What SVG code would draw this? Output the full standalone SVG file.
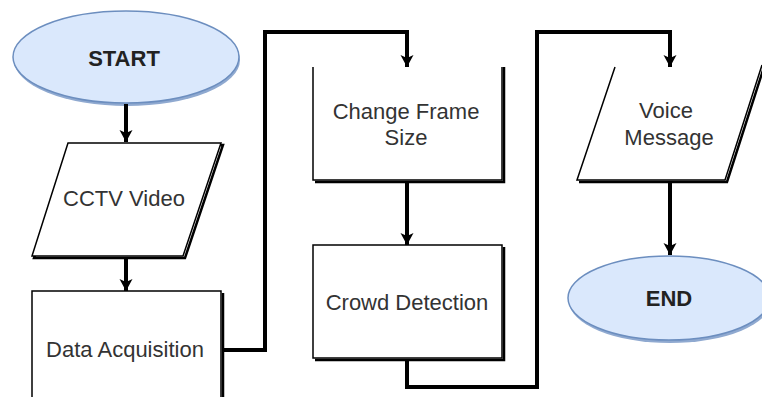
<svg xmlns="http://www.w3.org/2000/svg" width="762" height="402" viewBox="0 0 762 402">
<style>
.txt{font-family:"Liberation Sans",Arial,sans-serif;font-size:22px;fill:#333;text-anchor:middle}
.bold{font-weight:bold;fill:#222}
.term{fill:#dae8fc;stroke:#6c8ebf;stroke-width:1.5}
.termsh{fill:#8fa9d0;stroke:none}
.box{fill:#fff;stroke:#000;stroke-width:1.5}
.sh{fill:none;stroke:#000;stroke-width:2.5}
.conn{fill:none;stroke:#000;stroke-width:4;stroke-linejoin:miter}
</style>
<defs>
<marker id="arr" markerUnits="userSpaceOnUse" markerWidth="14" markerHeight="14" refX="12" refY="7" orient="auto">
<path d="M0,0.5 L12,7 L0,13.5 L3,7 z" fill="#000"/>
</marker>
</defs>
<rect width="762" height="402" fill="#fff"/>
<g id="start">
<ellipse class="termsh" cx="127" cy="60" rx="113" ry="46"/>
<ellipse class="term" cx="126" cy="57" rx="113" ry="46"/>
<text class="txt bold" x="124" y="66">START</text>
</g>
<g id="cctv">
<path class="sh" d="M70,145 L223,145 L185,258 L34,258 Z"/>
<path class="box" d="M68,143 L221,143 L183,256 L32,256 Z"/>
<text class="txt" x="124" y="206">CCTV Video</text>
</g>
<g id="data-acquisition">
<path class="sh" d="M223,293 V397"/>
<path class="box" d="M32,397 V291 H221 V397"/>
<text class="txt" x="125" y="357">Data Acquisition</text>
</g>
<g id="change-frame">
<path class="sh" d="M315,182 H504 V67"/>
<path class="box" d="M313,67 V180 H502 V67"/>
<text class="txt" x="406" y="119">Change Frame</text>
<text class="txt" x="406" y="145">Size</text>
</g>
<g id="crowd-detection">
<path class="sh" d="M504,247 V360 H315"/>
<rect class="box" x="313" y="245" width="189" height="113"/>
<text class="txt" x="407" y="310">Crowd Detection</text>
</g>
<g id="voice-message">
<path class="sh" d="M764,67 L727,182 H579"/>
<path class="box" d="M615,67 L577,180 H725 L762,65"/>
<text class="txt" x="666" y="118">Voice</text>
<text class="txt" x="669" y="145">Message</text>
</g>
<g id="end">
<ellipse class="termsh" cx="670" cy="301" rx="101" ry="42"/>
<ellipse class="term" cx="669" cy="298" rx="101" ry="42"/>
<text class="txt bold" x="669" y="306">END</text>
</g>
<g id="connectors">
<path class="conn" d="M126,104 V142" marker-end="url(#arr)"/>
<path class="conn" d="M126,257 V291" marker-end="url(#arr)"/>
<path class="conn" d="M222,350 H265 V32 H407 V67" marker-end="url(#arr)"/>
<path class="conn" d="M407,181 V245" marker-end="url(#arr)"/>
<path class="conn" d="M407,359 V387 H537 V32 H670 V67" marker-end="url(#arr)"/>
<path class="conn" d="M670,181 V255" marker-end="url(#arr)"/>
</g>
</svg>
